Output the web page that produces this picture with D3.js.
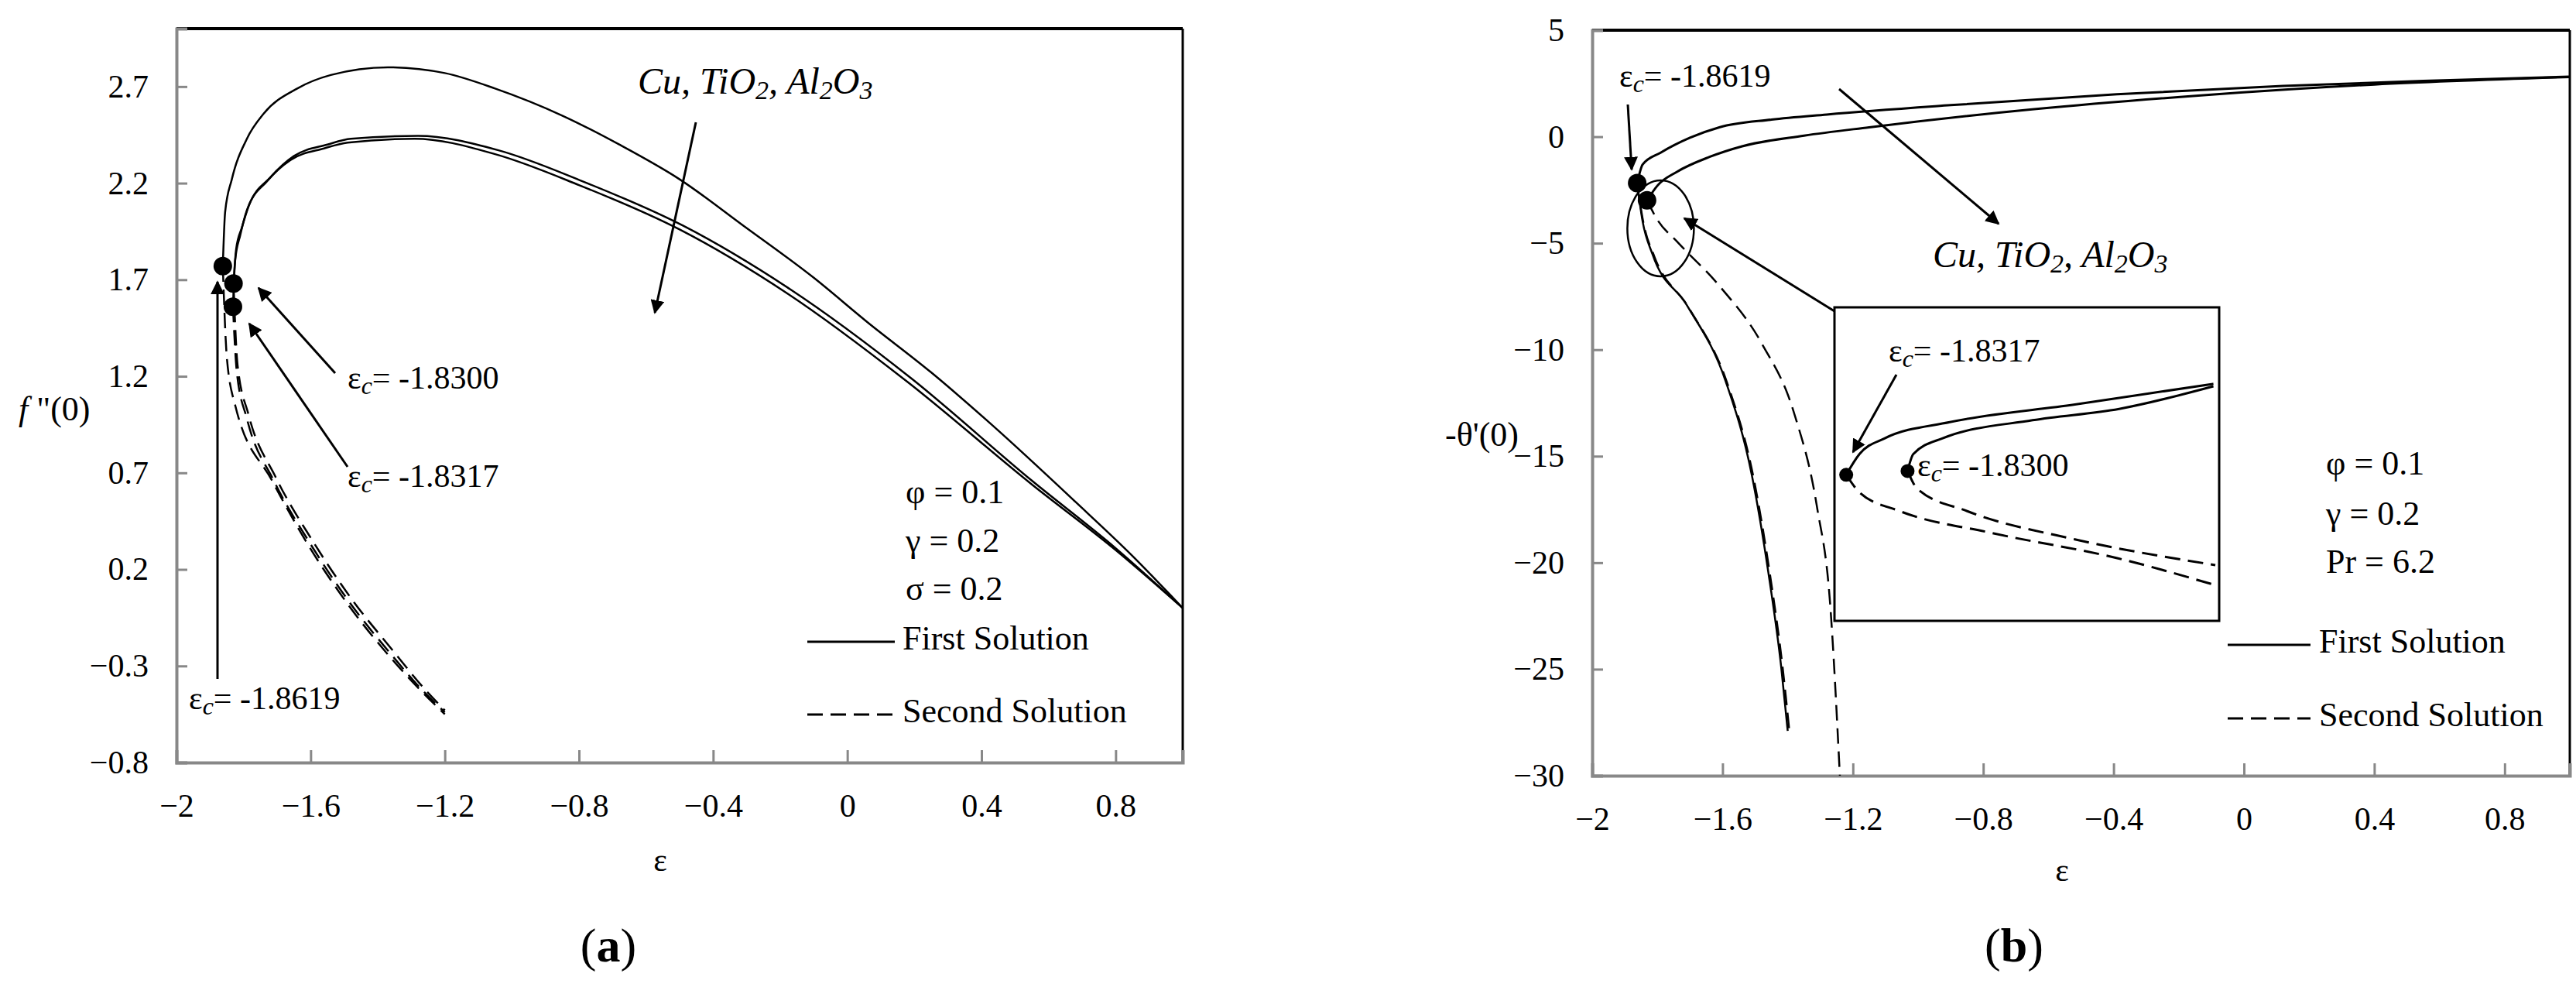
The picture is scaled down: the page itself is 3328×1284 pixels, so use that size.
<!DOCTYPE html>
<html><head><meta charset="utf-8">
<script src="https://cdn.jsdelivr.net/npm/d3@7"></script>
<style>body{margin:0;background:#fff}text{font-family:"Liberation Serif",serif;fill:#000}</style>
</head><body>
<svg id="fig" width="3328" height="1284"></svg>
<script>
// ---- data ----
var xTicks = [-2, -1.6, -1.2, -0.8, -0.4, 0, 0.4, 0.8];
var yTicksA = [-0.8, -0.3, 0.2, 0.7, 1.2, 1.7, 2.2, 2.7];
var yTicksB = [-30, -25, -20, -15, -10, -5, 0, 5];

// (a) f''(0), first solutions
var aFirstCu = [[-1.8619,1.77],[-1.855,2.05],[-1.835,2.22],[-1.79,2.43],[-1.74,2.56],[-1.64,2.69],[-1.54,2.76],[-1.37,2.80],[-1.2,2.77],[-1.05,2.69],[-0.85,2.55],[-0.68,2.40],[-0.5,2.22],[-0.31,1.98],[-0.1,1.71],[0.06,1.48],[0.25,1.22],[0.43,0.95],[0.68,0.55],[0.85,0.27],[1.0,0.0]];
var aFirstTi = [[-1.8317,1.56],[-1.825,1.80],[-1.81,1.93],[-1.79,2.06],[-1.73,2.21],[-1.66,2.32],[-1.56,2.38],[-1.49,2.41],[-1.29,2.43],[-1.05,2.35],[-0.8,2.19],[-0.5,1.96],[-0.18,1.63],[0.18,1.17],[0.55,0.64],[0.8,0.30],[1.0,0.0]];
var aFirstAl = [[-1.83,1.68],[-1.822,1.86],[-1.805,1.97],[-1.785,2.08],[-1.72,2.23],[-1.65,2.34],[-1.55,2.40],[-1.48,2.43],[-1.28,2.445],[-1.04,2.37],[-0.79,2.21],[-0.49,1.98],[-0.17,1.65],[0.19,1.19],[0.55,0.66],[0.8,0.31],[1.0,0.0]];
// (a) second solutions
var aSecondCu = [[-1.8619,1.77],[-1.85,1.3],[-1.825,1.05],[-1.715,0.66],[-1.605,0.32],[-1.485,0.01],[-1.365,-0.25],[-1.27,-0.43],[-1.2,-0.55]];
var aSecondTi = [[-1.8317,1.56],[-1.82,1.22],[-1.79,0.98],[-1.71,0.66],[-1.60,0.33],[-1.48,0.02],[-1.36,-0.24],[-1.27,-0.42],[-1.2,-0.54]];
var aSecondAl = [[-1.83,1.68],[-1.818,1.26],[-1.785,1.0],[-1.705,0.68],[-1.595,0.35],[-1.475,0.04],[-1.355,-0.22],[-1.265,-0.41],[-1.2,-0.53]];
var aDots = [[-1.8619,1.77],[-1.83,1.68],[-1.8317,1.56]];

// (b) -theta'(0)
var bFirstCu = [[-1.8619,-2.18],[-1.845,-1.3],[-1.79,-0.75],[-1.70,-0.05],[-1.61,0.44],[-1.45,0.80],[-1.28,1.04],[-0.9,1.48],[-0.39,1.99],[0.12,2.38],[0.55,2.62],[1.0,2.82]];
var bFirstTi = [[-1.8317,-2.99],[-1.80,-2.3],[-1.74,-1.65],[-1.64,-0.95],[-1.54,-0.45],[-1.35,0.05],[-1.15,0.44],[-0.65,1.28],[-0.14,1.93],[0.4,2.45],[1.0,2.8]];
var bSecondCu = [[-1.8619,-2.24],[-1.845,-4.0],[-1.815,-5.52],[-1.71,-7.9],[-1.59,-11.5],[-1.51,-15.9],[-1.46,-20.4],[-1.42,-24.9],[-1.40,-27.9]];
var bSecondCu2 = [[-1.8619,-2.24],[-1.842,-4.1],[-1.81,-5.6],[-1.705,-8.0],[-1.585,-11.6],[-1.505,-16.0],[-1.455,-20.5],[-1.415,-25.0],[-1.395,-27.9]];
var bSecondTi = [[-1.8317,-2.99],[-1.80,-3.9],[-1.74,-4.92],[-1.61,-7.0],[-1.48,-9.7],[-1.38,-13.0],[-1.31,-17.4],[-1.27,-21.9],[-1.24,-30]];
var bDots = [[-1.8619,-2.18],[-1.8317,-2.99]];

// (b) inset (zoom near turning points)
var inFirstCu = [[-1.8619,-3.67],[-1.855,-3.34],[-1.842,-3.09],[-1.808,-2.83],[-1.743,-2.55],[-1.671,-2.22]];
var inFirstAl = [[-1.83,-3.61],[-1.827,-3.34],[-1.812,-3.09],[-1.765,-2.80],[-1.72,-2.62],[-1.671,-2.26]];
var inSecondCu = [[-1.8619,-3.67],[-1.855,-3.95],[-1.834,-4.25],[-1.786,-4.60],[-1.721,-5.0],[-1.670,-5.43]];
var inSecondAl = [[-1.83,-3.61],[-1.825,-3.89],[-1.799,-4.25],[-1.743,-4.70],[-1.670,-5.11]];
var inDots = [[-1.8619,-3.67],[-1.83,-3.61]];

var svg = d3.select("#fig");
var defs = svg.append("defs");
defs.append("marker").attr("id","arr").attr("viewBox","0 0 10 10").attr("refX",9).attr("refY",5)
    .attr("markerWidth",6).attr("markerHeight",6).attr("orient","auto-start-reverse")
  .append("path").attr("d","M0,0L10,5L0,10z").attr("fill","#000");

function text(g, x, y, s, size, opt)
{
    opt = opt || {};
    return g.append("text").attr("x", x).attr("y", y).attr("font-size", size)
        .attr("text-anchor", opt.anchor || "start").attr("font-style", opt.italic ? "italic" : null)
        .attr("font-weight", opt.bold ? "bold" : null).attr("dominant-baseline","middle").text(s);
}
function epsC(g, x, y, val)
{
    var t = g.append("text").attr("x", x).attr("y", y).attr("font-size", 42).attr("dominant-baseline","middle");
    t.append("tspan").text("\u03b5");
    t.append("tspan").attr("font-style","italic").attr("baseline-shift","-30%").attr("font-size",32).text("c");
    t.append("tspan").text("= " + val);
}
function nano(g, x, y)
{
    var t = g.append("text").attr("x", x).attr("y", y).attr("font-size", 48).attr("font-style","italic").attr("dominant-baseline","middle");
    t.append("tspan").text("Cu, TiO");
    t.append("tspan").attr("baseline-shift","-30%").attr("font-size",34).text("2");
    t.append("tspan").text(", Al");
    t.append("tspan").attr("baseline-shift","-30%").attr("font-size",34).text("2");
    t.append("tspan").text("O");
    t.append("tspan").attr("baseline-shift","-30%").attr("font-size",34).text("3");
}
function arrow(g, x1, y1, x2, y2)
{
    g.append("line").attr("x1",x1).attr("y1",y1).attr("x2",x2).attr("y2",y2)
        .attr("stroke","#000").attr("stroke-width",3).attr("marker-end","url(#arr)");
}

function panel(left, right, top, bottom, yDom, yTicks)
{
    var x = d3.scaleLinear().domain([-2, 1]).range([left, right]);
    var y = d3.scaleLinear().domain(yDom).range([bottom, top]);
    var g = svg.append("g");
    g.append("line").attr("x1",left).attr("x2",right).attr("y1",top).attr("y2",top).attr("stroke","#000").attr("stroke-width",4);
    g.append("line").attr("x1",right).attr("x2",right).attr("y1",top).attr("y2",bottom).attr("stroke","#000").attr("stroke-width",3);
    var ax = g.append("g").attr("transform","translate(0," + bottom + ")")
        .call(d3.axisBottom(x).tickValues(xTicks).tickSize(-16).tickPadding(40).tickFormat(d3.format("")));
    var ay = g.append("g").attr("transform","translate(" + left + ",0)")
        .call(d3.axisLeft(y).tickValues(yTicks).tickSize(-14).tickPadding(36).tickFormat(d3.format("")));
    [ax, ay].forEach(function(a)
    {
        a.select(".domain").attr("stroke","#888").attr("stroke-width",4);
        a.selectAll(".tick line").attr("stroke","#888").attr("stroke-width",3);
        a.selectAll("text").attr("font-size",42).attr("font-family","Liberation Serif").attr("fill","#000");
    });
    return {g: g, x: x, y: y};
}

function curve(p, data, dashed, w)
{
    var line = d3.line().x(function(d){ return p.x(d[0]); }).y(function(d){ return p.y(d[1]); }).curve(d3.curveMonotoneX);
    p.g.append("path").datum(data).attr("d", line).attr("fill","none").attr("stroke","#000")
        .attr("stroke-width", w || 2.5).attr("stroke-dasharray", dashed ? "20,10" : null);
}
function dots(p, data, r)
{
    p.g.selectAll(null).data(data).enter().append("circle")
        .attr("cx", function(d){ return p.x(d[0]); }).attr("cy", function(d){ return p.y(d[1]); })
        .attr("r", r).attr("fill","#000");
}

// ---------- panel (a) ----------
var pa = panel(228, 1528, 37, 985, [-0.8, 3.0], yTicksA);
[aFirstCu, aFirstTi, aFirstAl].forEach(function(d){ curve(pa, d, false); });
[aSecondCu, aSecondTi, aSecondAl].forEach(function(d){ curve(pa, d, true); });
dots(pa, aDots, 12);
nano(pa.g, 824, 110);
arrow(pa.g, 899, 158, 846, 404);
epsC(pa.g, 449, 492, "-1.8300");
arrow(pa.g, 433, 482, 334, 372);
epsC(pa.g, 449, 619, "-1.8317");
arrow(pa.g, 449, 603, 322, 418);
epsC(pa.g, 244, 906, "-1.8619");
arrow(pa.g, 281, 877, 281, 364);
text(pa.g, 1170, 640, "\u03c6 = 0.1", 44);
text(pa.g, 1170, 703, "\u03b3 = 0.2", 44);
text(pa.g, 1170, 765, "\u03c3 = 0.2", 44);
pa.g.append("line").attr("x1",1043).attr("x2",1156).attr("y1",829).attr("y2",829).attr("stroke","#000").attr("stroke-width",3);
text(pa.g, 1166, 829, "First Solution", 44);
pa.g.append("line").attr("x1",1043).attr("x2",1156).attr("y1",923).attr("y2",923).attr("stroke","#000").attr("stroke-width",3).attr("stroke-dasharray","20,10");
text(pa.g, 1166, 923, "Second Solution", 44);
var fl = pa.g.append("text").attr("x",24).attr("y",533).attr("font-size",44).attr("dominant-baseline","middle");
fl.append("tspan").attr("font-style","italic").text("f ");
fl.append("tspan").text("\"(0)");
text(pa.g, 853, 1115, "\u03b5", 42, {anchor:"middle"});
var la = pa.g.append("text").attr("x",786).attr("y",1228).attr("font-size",62).attr("text-anchor","middle").attr("dominant-baseline","middle");
la.append("tspan").text("(");
la.append("tspan").attr("font-weight","bold").text("a");
la.append("tspan").text(")");

// ---------- panel (b) ----------
var pb = panel(2057, 3320, 39, 1002, [-30, 5], yTicksB);
[bFirstCu, bFirstTi].forEach(function(d){ curve(pb, d, false, 3); });
curve(pb, bSecondCu, false, 2.5);
curve(pb, bSecondCu2, true, 2.5);
curve(pb, bSecondTi, true, 2.5);
dots(pb, bDots, 12);
pb.g.append("ellipse").attr("cx", pb.x(-1.79)).attr("cy", pb.y(-4.3)).attr("rx",43).attr("ry",62)
    .attr("fill","none").attr("stroke","#000").attr("stroke-width",2.5);
epsC(pb.g, 2092, 102, "-1.8619");
arrow(pb.g, 2103, 135, 2108, 219);
arrow(pb.g, 2376, 115, 2582, 289);
nano(pb.g, 2497, 334);
arrow(pb.g, 2370, 402, 2176, 282);
text(pb.g, 3005, 603, "\u03c6 = 0.1", 44);
text(pb.g, 3005, 668, "\u03b3 = 0.2", 44);
text(pb.g, 3005, 730, "Pr = 6.2", 44);
pb.g.append("line").attr("x1",2878).attr("x2",2985).attr("y1",833).attr("y2",833).attr("stroke","#000").attr("stroke-width",3);
text(pb.g, 2996, 833, "First Solution", 44);
pb.g.append("line").attr("x1",2878).attr("x2",2985).attr("y1",928).attr("y2",928).attr("stroke","#000").attr("stroke-width",3).attr("stroke-dasharray","20,10");
text(pb.g, 2996, 928, "Second Solution", 44);
text(pb.g, 1867, 566, "-\u03b8'(0)", 44);
text(pb.g, 2664, 1128, "\u03b5", 42, {anchor:"middle"});
var lb = pb.g.append("text").attr("x",2602).attr("y",1228).attr("font-size",62).attr("text-anchor","middle").attr("dominant-baseline","middle");
lb.append("tspan").text("(");
lb.append("tspan").attr("font-weight","bold").text("b");
lb.append("tspan").text(")");

// inset
var ix0 = 2370, ix1 = 2867, iy0 = 397, iy1 = 802;
var pi = {g: svg.append("g"),
          x: d3.scaleLinear().domain([-1.868, -1.668]).range([ix0, ix1]),
          y: d3.scaleLinear().domain([-6.0, -1.0]).range([iy1, iy0])};
pi.g.append("rect").attr("x",ix0).attr("y",iy0).attr("width",ix1-ix0).attr("height",iy1-iy0)
    .attr("fill","#fff").attr("stroke","#000").attr("stroke-width",3);
curve(pi, inFirstCu, false, 3);
curve(pi, inFirstAl, false, 3);
curve(pi, inSecondCu, true, 3);
curve(pi, inSecondAl, true, 3);
dots(pi, inDots, 9);
epsC(pi.g, 2440, 457, "-1.8317");
arrow(pi.g, 2450, 484, 2394, 584);
epsC(pi.g, 2477, 605, "-1.8300");
</script>
</body></html>
